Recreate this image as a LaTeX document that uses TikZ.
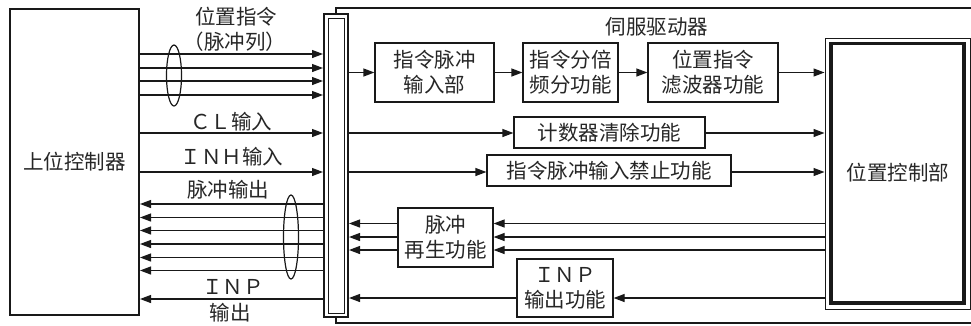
\documentclass[tikz,border=0pt]{standalone}
\usepackage{fontspec}
\setmainfont{Noto Sans CJK SC}
\usetikzlibrary{arrows.meta}
\tikzset{
  txt/.style={text=black!85, font=\fontsize{20.5}{25}\selectfont, inner sep=0pt},
  fbox/.style={txt, draw=black!90, line width=1.2pt, align=center},
  arr/.style={draw=black!90, line width=1.2pt, -{Triangle[length=11pt,width=8pt]}},
  ln/.style={draw=black!90, line width=1.2pt},
}
\begin{document}
\begin{tikzpicture}[x=1pt,y=-1pt]
\useasboundingbox (0,0) rectangle (971,325);
% servo outer frame
\draw[line width=2pt, black!90] (975,8) -- (336,8) -- (336,323) -- (975,323);
% host box
\node[fbox, line width=2pt, minimum width=129pt, minimum height=306pt] (host) at (74.5,162) {上位控制器};
% connector bar
\node[draw=black!90, fill=white, line width=2pt, minimum width=24pt, minimum height=303pt, inner sep=0pt] (bar) at (336,165.5) {};
\draw[black!90, line width=1pt] (328,18.5) rectangle (344,313);
% position control box
\node[txt, draw=black!90, line width=1pt, minimum width=145pt, minimum height=271pt] (pc) at (897.5,173.5) {};
\draw[black!90, line width=3.5pt] (831,43.5) rectangle (964,303);
\node[txt] (pct) at (898,173) {位置控制部};
% function boxes
\node[fbox, minimum width=119pt, minimum height=59pt] (b1) at (434.5,72.5) {指令脉冲\\输入部};
\node[fbox, minimum width=95pt, minimum height=59pt] (b2) at (570.5,72.5) {指令分倍\\频分功能};
\node[fbox, minimum width=130pt, minimum height=59pt] (b3) at (713,72.5) {位置指令\\滤波器功能};
\node[fbox, minimum width=191pt, minimum height=31pt] (b4) at (609.5,132.5) {计数器清除功能};
\node[fbox, minimum width=244pt, minimum height=31pt] (b5) at (609,170.5) {指令脉冲输入禁止功能};
\node[fbox, minimum width=95pt, minimum height=59pt] (b6) at (445.5,237.5) {脉冲\\再生功能};
\node[fbox, minimum width=96pt, minimum height=58pt] (b7) at (565,288) {ＩＮＰ\\输出功能};
% labels
\node[txt] (l1) at (236,17) {位置指令};
\node[txt] (l2) at (235,42) {（脉冲列）};
\node[txt] (l3) at (231,122) {ＣＬ输入};
\node[txt] (l4) at (232,157) {ＩＮＨ输入};
\node[txt] (l5) at (228,190) {脉冲输出};
\node[txt] (l6) at (233,287) {ＩＮＰ};
\node[txt] (l7) at (230,313) {输出};
\node[txt] (l8) at (657,27) {伺服驱动器};
% input lines
\foreach \y in {54,68,81,95} {\draw[arr] (host.east |- 0,\y) -- (bar.west |- 0,\y);}
\draw[ln] (174,75.5) ellipse (7.5pt and 30.5pt);
\draw[arr] (host.east |- 0,133) -- (bar.west |- 0,133);
\draw[arr] (host.east |- 0,172) -- (bar.west |- 0,172);
% output lines
\foreach \y in {204,217.5,230.5,244,257.5,270.5} {\draw[arr] (bar.west |- 0,\y) -- (host.east |- 0,\y);}
\draw[ln] (291,237) ellipse (7.5pt and 42pt);
\draw[arr] (bar.west |- 0,299) -- (host.east |- 0,299);
% internal connectors
\draw[arr] (bar.east |- b1) -- (b1.west);
\draw[arr] (b1.east) -- (b2.west);
\draw[arr] (b2.east) -- (b3.west);
\draw[arr] (b3.east) -- (pc.west |- b3);
\draw[arr] (bar.east |- 0,133) -- (b4.west |- 0,133);
\draw[arr] (b4.east |- 0,133) -- (pc.west |- 0,133);
\draw[arr] (bar.east |- 0,172) -- (b5.west |- 0,172);
\draw[arr] (b5.east |- 0,172) -- (pc.west |- 0,172);
\foreach \y in {223.5,237,250} {
  \draw[arr] (pc.west |- 0,\y) -- (b6.east |- 0,\y);
  \draw[arr] (b6.west |- 0,\y) -- (bar.east |- 0,\y);
}
\draw[arr] (pc.west |- 0,298) -- (b7.east |- 0,298);
\draw[arr] (b7.west |- 0,298) -- (bar.east |- 0,298);
\end{tikzpicture}
\end{document}
